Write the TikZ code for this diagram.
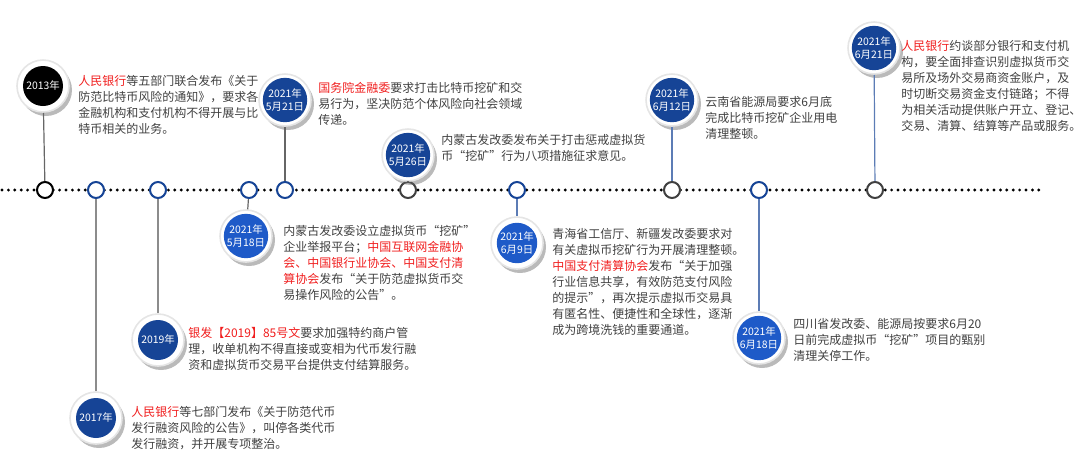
\documentclass[tikz,border=0pt]{standalone}
\usepackage{fontspec}
\setmainfont{Noto Sans CJK SC}
\usetikzlibrary{shadows}
\definecolor{navy}{RGB}{22,68,150}
\definecolor{royal}{RGB}{30,90,200}
\definecolor{txt}{RGB}{64,64,64}
\definecolor{hl}{RGB}{240,30,30}
\newcommand{\hl}[1]{\textcolor{hl}{#1}}
\begin{document}
\begin{tikzpicture}
  [x=0.5pt, y=-0.5pt,
  % ring
  ring/.style = {circle, fill=white, draw=black!10, line width=0.8pt,
    minimum size=26pt, inner sep=0pt,
    drop shadow={shadow xshift=1.5pt, shadow yshift=-2pt, opacity=0.45, fill=black!60}},
  % badge
  badge/.style = {circle, fill=#1, minimum size=20pt, inner sep=0pt,
    text=white, align=center, font=\fontsize{5.2pt}{6.6pt}\selectfont},
  % marker
  mark0/.style = {circle, draw=#1, line width=1pt, fill=white,
    minimum size=8pt, inner sep=0pt},
  % text
  note/.style = {anchor=north west, align=left, inner sep=0pt,
    text=txt, font=\fontsize{6pt}{8pt}\selectfont},
  % line
  stem/.style = {draw=#1, line width=0.6pt},
  ]
  \useasboundingbox (0,0) rectangle (1080,472);

  % axis
  \draw [line width=1.6pt, dash pattern=on 0pt off 3.2pt, line cap=round] (2,190) -- (1045,190);

  % markers
  \node [mark0=black] (m13) at (45,190) {};
  \node [mark0=navy] (m17) at (96,190) {};
  \node [mark0=navy] (m19) at (158,190) {};
  \node [mark0=navy] (m518) at (249,190) {};
  \node [mark0=navy] (m521) at (285,190) {};
  \node [mark0=black!75] (m526) at (408,190) {};
  \node [mark0=navy] (m69) at (517,190) {};
  \node [mark0=black!75] (m612) at (672,190) {};
  \node [mark0=navy] (m618) at (759,190) {};
  \node [mark0=black!75] (m621) at (875,190) {};

  % badges
  \node [ring] (r13) at (43,86) {};
  \node [badge=black] (b13) at (r13) {2013年};
  \node [ring] (r521) at (285,100) {};
  \node [badge=navy] (b521) at (r521) {2021年\\5月21日};
  \node [ring] (r526) at (408,155) {};
  \node [badge=navy] (b526) at (r526) {2021年\\5月26日};
  \node [ring] (r612) at (672,100) {};
  \node [badge=navy] (b612) at (r612) {2021年\\6月12日};
  \node [ring] (r621) at (874,48) {};
  \node [badge=navy] (b621) at (r621) {2021年\\6月21日};
  \node [ring] (r518) at (246,236) {};
  \node [badge=royal] (b518) at (r518) {2021年\\5月18日};
  \node [ring] (r69) at (517,243) {};
  \node [badge=royal] (b69) at (r69) {2021年\\6月9日};
  \node [ring] (r19) at (158,340) {};
  \node [badge=navy] (b19) at (r19) {2019年};
  \node [ring] (r17) at (96,418) {};
  \node [badge=navy] (b17) at (r17) {2017年};
  \node [ring] (r618) at (759,338) {};
  \node [badge=royal] (b618) at (r618) {2021年\\6月18日};

  % stems
  \path [stem=black!60] (r13) -- (m13);
  \path [stem=black!60] (r521) -- (m521);
  \path [stem=black!60] (r526) -- (m526);
  \path [stem=navy!70] (r612) -- (m612);
  \path [stem=navy!70] (r621) -- (m621);
  \path [stem=black!60] (m518) -- (r518);
  \path [stem=navy!70] (m69) -- (r69);
  \path [stem=black!45] (m19) -- (r19);
  \path [stem=black!45] (m17) -- (r17);
  \path [stem=navy!70] (m618) -- (r618);

  % texts
  \node [note] (t13) at (78,75) {\hl{人民银行}等五部门联合发布《关于\\防范比特币风险的通知》，要求各\\金融机构和支付机构不得开展与比\\特币相关的业务。};
  \node [note] (t521) at (318,82) {\hl{国务院金融委}要求打击比特币挖矿和交\\易行为，坚决防范个体风险向社会领域\\传递。};
  \node [note] (t526) at (441,134) {内蒙古发改委发布关于打击惩戒虚拟货\\币“挖矿”行为八项措施征求意见。};
  \node [note] (t612) at (705,96) {云南省能源局要求6月底\\完成比特币挖矿企业用电\\清理整顿。};
  \node [note] (t621) at (901,40) {\hl{人民银行}约谈部分银行和支付机\\构，要全面排查识别虚拟货币交\\易所及场外交易商资金账户，及\\时切断交易资金支付链路；不得\\为相关活动提供账户开立、登记、\\交易、清算、结算等产品或服务。};
  \node [note] (t518) at (283,225) {内蒙古发改委设立虚拟货币“挖矿”\\企业举报平台；\hl{中国互联网金融协}\\\hl{会、中国银行业协会、中国支付清}\\\hl{算协会}发布“关于防范虚拟货币交\\易操作风险的公告”。};
  \node [note] (t69) at (552,228) {青海省工信厅、新疆发改委要求对\\有关虚拟币挖矿行为开展清理整顿。\\\hl{中国支付清算协会}发布“关于加强\\行业信息共享，有效防范支付风险\\的提示”，再次提示虚拟币交易具\\有匿名性、便捷性和全球性，逐渐\\成为跨境洗钱的重要通道。};
  \node [note] (t19) at (188,327) {\hl{银发【2019】85号文}要求加强特约商户管\\理，收单机构不得直接或变相为代币发行融\\资和虚拟货币交易平台提供支付结算服务。};
  \node [note] (t17) at (131,406) {\hl{人民银行}等七部门发布《关于防范代币\\发行融资风险的公告》，叫停各类代币\\发行融资，并开展专项整治。};
  \node [note] (t618) at (793,318) {四川省发改委、能源局按要求6月20\\日前完成虚拟币“挖矿”项目的甄别\\清理关停工作。};
\end{tikzpicture}
\end{document}
